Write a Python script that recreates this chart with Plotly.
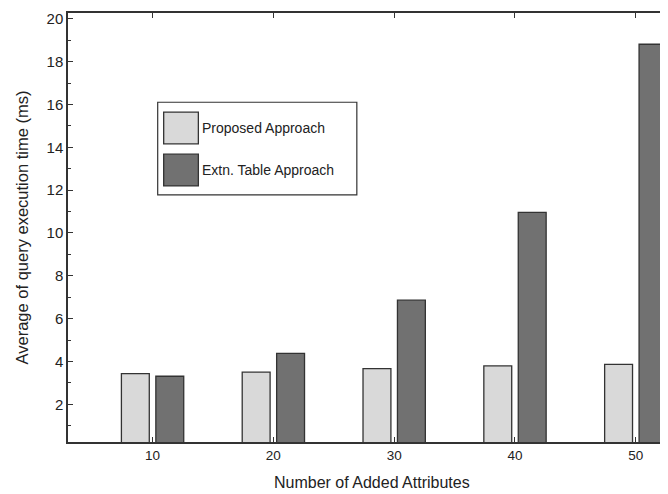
import plotly.graph_objects as go

attributes = [10, 20, 30, 40, 50]
proposed = [3.43, 3.50, 3.67, 3.79, 3.86]
extn_table = [3.31, 4.38, 6.86, 10.96, 18.81]
series_names = ["Proposed Approach", "Extn. Table Approach"]

_FONT = "Liberation Sans, Arial, sans-serif"
_INK = "#333333"
_LIGHT = "#d9d9d9"
_DARK = "#717171"

fig = go.Figure()
fig.add_bar(x=attributes, y=proposed, name=series_names[0],
            marker=dict(color=_LIGHT, line=dict(color=_INK, width=1.3)))
fig.add_bar(x=attributes, y=extn_table, name=series_names[1],
            marker=dict(color=_DARK, line=dict(color=_INK, width=1.3)))

# hand-drawn legend box with large swatches, like the original figure
fig.add_shape(type="rect", xref="paper", yref="paper", x0=0.15, x1=0.483, y0=0.576, y1=0.792,
              line=dict(color=_INK, width=1.2), fillcolor="white", layer="above")
for i, (name, col) in enumerate(zip(series_names, [_LIGHT, _DARK])):
    top = 0.769 - i * 0.098
    fig.add_shape(type="rect", xref="paper", yref="paper", x0=0.16, x1=0.218,
                  y0=top - 0.074, y1=top, line=dict(color=_INK, width=1.3),
                  fillcolor=col, layer="above")
    fig.add_annotation(text=name, xref="paper", yref="paper", x=0.221, y=top - 0.037,
                       xanchor="left", yanchor="middle", showarrow=False,
                       font=dict(size=14, color="#222"))

# axis title placed by hand: the original sits a little right of the plot centre
fig.add_annotation(text="Number of Added Attributes", xref="paper", yref="paper",
                   x=0.509, y=-0.094, xanchor="center", yanchor="middle",
                   showarrow=False, font=dict(size=16, color="#222"))

# the page body adds an 8px margin, so the figure is 8px smaller than the window
fig.update_layout(
    width=660, height=486, barmode="group", bargap=0.43, bargroupgap=0.19,
    showlegend=False, plot_bgcolor="white", paper_bgcolor="white",
    margin=dict(l=60, r=0, t=5, b=52),
    font=dict(family=_FONT, color="#222", size=13),
)
fig.update_xaxes(
    range=[3, 52.5], tickvals=attributes, ticks="inside", ticklen=5, tickcolor=_INK,
    showline=True, linecolor=_INK, linewidth=1.5, mirror="ticks", showgrid=False,
    zeroline=False, tickfont=dict(size=13.5),
)
fig.update_yaxes(
    range=[0.24, 20.27], tickvals=list(range(2, 21, 2)), ticks="inside", ticklen=5,
    tickcolor=_INK, showline=True, linecolor=_INK, linewidth=1.5, mirror="ticks",
    showgrid=False, zeroline=False, tickfont=dict(size=15),
    minor=dict(tickvals=list(range(1, 20, 2)), ticks="inside", ticklen=3, tickcolor=_INK),
    title=dict(text="Average of query execution time (ms)", font=dict(size=16.5), standoff=14),
)

fig.write_html("out.html")
